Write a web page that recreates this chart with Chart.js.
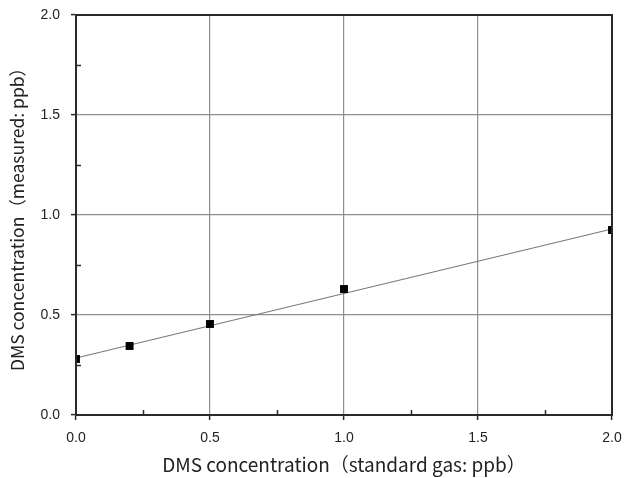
<!DOCTYPE html>
<html lang="ja">
<head>
  <meta charset="UTF-8" />
  <title>DMS calibration</title>
  <script src="https://cdn.jsdelivr.net/npm/chart.js"></script>
  <style>
    body { margin:0; background:#fff; }
    #wrap { width:624px; height:478px; }
  </style>
</head>
<body>
  <div id="wrap"><canvas id="c" width="624" height="478"></canvas></div>
  <script>
    // 標準ガス濃度と測定値 (ppb)
    const stdConc = [0, 0.2, 0.5, 1.0, 2.0];
    const measured = [0.28, 0.345, 0.455, 0.63, 0.925];
    // 回帰直線の端点
    const fitX = [0, 2.0];
    const fitY = [0.285, 0.93];
    const xTicks = [0, 0.5, 1.0, 1.5, 2.0];
    const yTicks = [0, 0.5, 1.0, 1.5, 2.0];
    const minorStep = 0.25;

    const axisColor = '#2a2a2a';
    const gridColor = '#8f8f8f';
    const tickFont = { family:'Liberation Sans, Arial, sans-serif', size:14 };

    // 枠線と内向きの副目盛
    const frame = {
      id:'frame',
      afterDraw(chart){
        const {ctx, chartArea:a, scales:{x,y}} = chart;
        ctx.save();
        ctx.strokeStyle = axisColor;
        ctx.lineWidth = 2;
        ctx.strokeRect(a.left, a.top, a.right-a.left, a.bottom-a.top);
        ctx.lineWidth = 1.5;
        ctx.beginPath();
        for(let v=minorStep; v<2; v+=2*minorStep){
          const px = Math.round(x.getPixelForValue(v))+0.5;
          ctx.moveTo(px, a.bottom); ctx.lineTo(px, a.bottom-5);
          const py = Math.round(y.getPixelForValue(v))+0.5;
          ctx.moveTo(a.left, py); ctx.lineTo(a.left+5, py);
        }
        ctx.stroke();
        ctx.restore();
      }
    };

    new Chart(document.getElementById('c'), {
      type:'scatter',
      data:{
        datasets:[
          {
            data: stdConc.map((v,i)=>({x:v, y:measured[i]})),
            pointStyle:'rect', pointRadius:5.6, pointBackgroundColor:'#000', pointBorderColor:'#000', pointBorderWidth:0,
            showLine:false, order:1
          },
          {
            data: fitX.map((v,i)=>({x:v, y:fitY[i]})),
            showLine:true, borderColor:'#777', borderWidth:1.2, pointRadius:0, order:2
          }
        ]
      },
      options:{
        responsive:false, animation:false,
        layout:{ padding:{ top:15, right:12, left:0, bottom:0 } },
        plugins:{ legend:{display:false}, tooltip:{enabled:false} },
        scales:{
          x:{
            type:'linear', min:0, max:2,
            afterBuildTicks(s){ s.ticks = xTicks.map(v=>({value:v})); },
            afterFit(s){ s.height = 63; s.paddingLeft = 0; s.paddingRight = 0; },
            grid:{ color:gridColor, lineWidth:1.2, tickLength:5, tickColor:axisColor, tickWidth:1.5 },
            border:{ color:axisColor, width:2 },
            ticks:{ color:'#222', font:tickFont, padding:10, maxRotation:0, callback:v=>v.toFixed(1) },
            title:{ display:true, text:'DMS concentration（standard gas: ppb）', color:'#222',
                    font:{ family:'"Noto Sans CJK JP", sans-serif', size:19 }, padding:{top:0, bottom:2} }
          },
          y:{
            type:'linear', min:0, max:2,
            afterBuildTicks(s){ s.ticks = yTicks.map(v=>({value:v})); },
            afterFit(s){ s.width = 76; s.paddingTop = 0; s.paddingBottom = 0; },
            grid:{ color:gridColor, lineWidth:1.2, tickLength:5, tickColor:axisColor, tickWidth:1.5 },
            border:{ color:axisColor, width:2 },
            ticks:{ color:'#222', font:tickFont, padding:11, callback:v=>v.toFixed(1) },
            title:{ display:true, text:'DMS concentration（measured: ppb）', color:'#222',
                    font:{ family:'"Noto Sans CJK JP", sans-serif', size:17.5 }, padding:{top:7, bottom:0} }
          }
        }
      },
      plugins:[frame]
    });
  </script>
</body>
</html>
